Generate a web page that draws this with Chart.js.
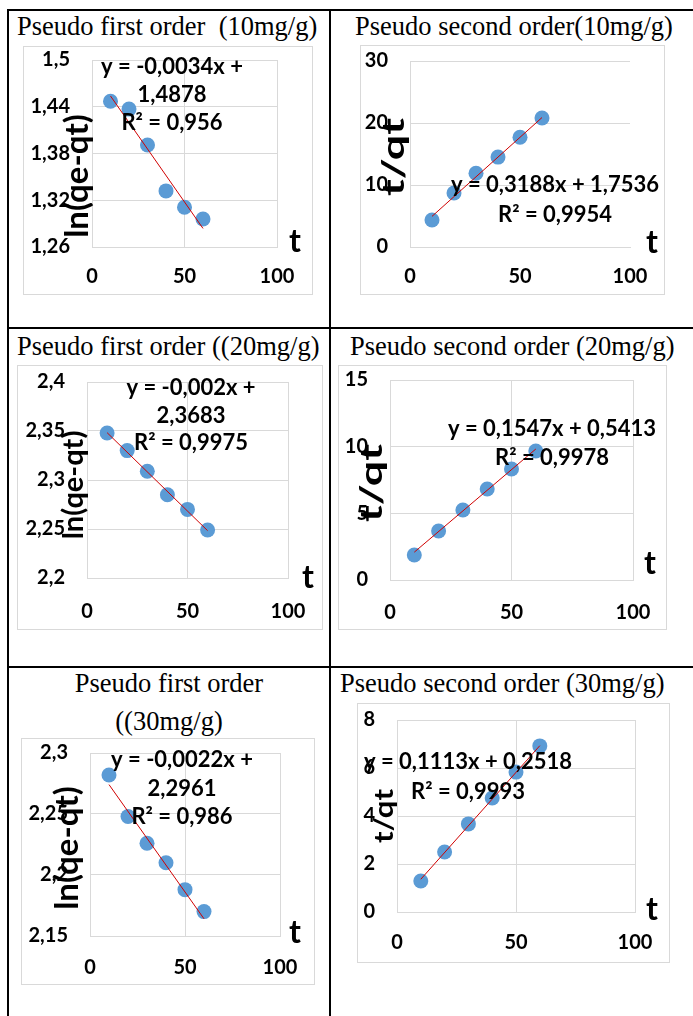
<!DOCTYPE html>
<html>
<head>
<meta charset="utf-8">
<script src="https://cdn.jsdelivr.net/npm/chart.js@4.4.1/dist/chart.umd.min.js"></script>
<style>
  html, body { margin: 0; padding: 0; background: #fff; }
  #page { position: relative; width: 693px; height: 1016px; overflow: hidden; }
  .rule { position: absolute; background: #000; }
  .title { position: absolute; font-family: "Liberation Serif", "Times New Roman", serif; font-size: 26.5px; line-height: 30px; white-space: pre; color: #000; }
  .frame { position: absolute; outline: 1px solid #d9d9d9; outline-offset: -1px; }
</style>
</head>
<body>
<div id="page">
  <!-- table rules -->
  <div class="rule" style="left:7px;top:9px;width:686px;height:2px"></div>
  <div class="rule" style="left:7px;top:327px;width:686px;height:2px"></div>
  <div class="rule" style="left:7px;top:666px;width:686px;height:2px"></div>
  <div class="rule" style="left:7px;top:9px;width:2px;height:1007px"></div>
  <div class="rule" style="left:329px;top:9px;width:2px;height:1007px"></div>

  <!-- cell titles -->
  <div class="title" style="left:17px;top:11px">Pseudo first order  (10mg/g)</div>
  <div class="title" style="left:355px;top:11px">Pseudo second order(10mg/g)</div>
  <div class="title" style="left:17px;top:331px">Pseudo first order ((20mg/g)</div>
  <div class="title" style="left:350px;top:331px">Pseudo second order (20mg/g)</div>
  <div class="title" style="left:9px;top:664px;width:320px;text-align:center;line-height:38px">Pseudo first order
((30mg/g)</div>
  <div class="title" style="left:340px;top:668px">Pseudo second order (30mg/g)</div>

  <div class="frame" style="left:23px;top:46px;width:290px;height:249px"><canvas id="c1"></canvas></div>
  <div class="frame" style="left:360px;top:45px;width:305px;height:250px"><canvas id="c2"></canvas></div>
  <div class="frame" style="left:17px;top:365px;width:306px;height:265px"><canvas id="c3"></canvas></div>
  <div class="frame" style="left:338px;top:365px;width:329px;height:265px"><canvas id="c4"></canvas></div>
  <div class="frame" style="left:21px;top:738px;width:294px;height:247px"><canvas id="c5"></canvas></div>
  <div class="frame" style="left:357px;top:703px;width:313px;height:260px"><canvas id="c6"></canvas></div>
</div>

<script>
// --- Data ---
const times = [10, 20, 30, 40, 50, 60];
const trendX = [10, 60];
const xTicks = [0, 50, 100];

// Pseudo first order: ln(qe-qt)
const pfo10 = [1.447, 1.437, 1.391, 1.332, 1.311, 1.296];
const pfo20 = [2.348, 2.330, 2.309, 2.285, 2.270, 2.249];
const pfo30 = [2.282, 2.248, 2.226, 2.210, 2.188, 2.170];
// Pseudo second order: t/qt
const pso10 = [4.35, 8.70, 11.9, 14.5, 17.7, 20.8];
const pso20 = [1.88, 3.68, 5.25, 6.83, 8.33, 9.68];
const pso30 = [1.29, 2.50, 3.67, 4.75, 5.83, 6.92];

// Trendline end values (at t = 10 and t = 60)
const pfo10Trend = [1.4538, 1.2838];
const pfo20Trend = [2.3483, 2.2483];
const pfo30Trend = [2.2741, 2.1641];
const pso10Trend = [4.9416, 20.8816];
const pso20Trend = [2.0883, 9.8233];
const pso30Trend = [1.3648, 6.9298];

// Y tick labels
const pfo10Ticks = [1.26, 1.32, 1.38, 1.44, 1.5];
const pfo20Ticks = [2.2, 2.25, 2.3, 2.35, 2.4];
const pfo30Ticks = [2.15, 2.2, 2.25, 2.3];
const pso10Ticks = [0, 10, 20, 30];
const pso20Ticks = [0, 5, 10, 15];
const pso30Ticks = [0, 2, 4, 6, 8];

// Trendline labels
const pfo10Eq = ['y = -0,0034x +', '1,4878', 'R² = 0,956'];
const pfo20Eq = ['y = -0,002x +', '2,3683', 'R² = 0,9975'];
const pfo30Eq = ['y = -0,0022x +', '2,2961', 'R² = 0,986'];
const pso10Eq = ['y = 0,3188x + 1,7536', 'R² = 0,9954'];
const pso20Eq = ['y = 0,1547x + 0,5413', 'R² = 0,9978'];
const pso30Eq = ['y = 0,1113x + 0,2518', 'R² = 0,9993'];

const BLUE = '#5B9BD5', RED = '#D00000', GRID = '#D9D9D9';
const tickFont = { family: 'Lato', size: 20, weight: 'bold' };

// label placement per chart (canvas-local pixels)
const annotations = {};

const annotPlugin = {
    id: 'annot',
    afterDraw(chart) {
        const a = annotations[chart.canvas.id];
        const ctx = chart.ctx;
        ctx.save();
        ctx.fillStyle = '#000';
        ctx.textAlign = 'center';
        ctx.textBaseline = 'middle';
        ctx.font = 'bold 22px Lato';
        a.eq.forEach((line, i) => ctx.fillText(line, a.eqX, a.eqY + i * a.eqGap));
        ctx.font = 'bold 32px Lato';
        ctx.fillText('t', a.tX, a.tY);
        ctx.translate(a.yX, a.yY);
        ctx.rotate(-Math.PI / 2);
        ctx.scale(a.yStretch, 1);
        ctx.font = 'bold ' + a.ySize + 'px Lato';
        ctx.fillText(a.yText, 0, 0);
        ctx.restore();
    }
};

function fmt(v) { return String(v).replace('.', ','); }

function buildChart(id, values, trend, yTicks, eq, g) {
    annotations[id] = Object.assign({ eq }, g);
    new Chart(document.getElementById(id), {
        type: 'scatter',
        data: {
            datasets: [
                {   // trendline (first dataset is painted on top)
                    data: trendX.map((x, i) => ({ x, y: trend[i] })),
                    showLine: true,
                    borderColor: RED,
                    borderWidth: 1,
                    pointRadius: 0
                },
                {
                    data: times.map((x, i) => ({ x, y: values[i] })),
                    pointBackgroundColor: BLUE,
                    pointBorderWidth: 0,
                    pointRadius: 7.5
                }
            ]
        },
        options: {
            responsive: true,
            maintainAspectRatio: false,
            animation: false,
            layout: { padding: { top: g.top, right: g.right, left: 0, bottom: 0 } },
            plugins: { legend: { display: false }, tooltip: { enabled: false } },
            scales: {
                x: {
                    type: 'linear', min: 0, max: 100,
                    afterBuildTicks: s => { s.ticks = xTicks.map(v => ({ value: v })); },
                    afterFit: s => { s.height = g.xH; s.paddingLeft = 0; s.paddingRight = 0; },
                    grid: { display: g.vgrid, color: GRID, drawTicks: false },
                    border: { color: GRID },
                    ticks: { font: tickFont, color: '#000', padding: g.xPad, maxRotation: 0, autoSkip: false }
                },
                y: {
                    min: yTicks[0], max: yTicks[yTicks.length - 1],
                    afterBuildTicks: s => { s.ticks = yTicks.map(v => ({ value: v })); },
                    afterFit: s => { s.width = g.yW; s.paddingTop = 0; s.paddingBottom = 0; },
                    grid: { color: GRID, drawTicks: false },
                    border: { color: GRID },
                    ticks: { font: tickFont, color: '#000', padding: 22, autoSkip: false, callback: v => fmt(v) }
                }
            }
        },
        plugins: [annotPlugin]
    });
}

buildChart('c1', pfo10, pfo10Trend, pfo10Ticks, pfo10Eq,
    { top: 14, right: 36, yW: 69, xH: 48, xPad: 18, vgrid: true,
      eqX: 149, eqY: 21, eqGap: 28, tX: 272, tY: 196,
      yText: 'ln(qe-qt)', yX: 54, yY: 130, ySize: 33, yStretch: 1 });
buildChart('c2', pso10, pso10Trend, pso10Ticks, pso10Eq,
    { top: 16, right: 35, yW: 50, xH: 48, xPad: 18, vgrid: false,
      eqX: 195, eqY: 140, eqGap: 30, tX: 292, tY: 198,
      yText: 't/qt', yX: 34, yY: 112, ySize: 30, yStretch: 1.5 });
buildChart('c3', pfo20, pfo20Trend, pfo20Ticks, pfo20Eq,
    { top: 17, right: 35, yW: 70, xH: 52, xPad: 22, vgrid: true,
      eqX: 174, eqY: 23, eqGap: 27.5, tX: 291, tY: 213,
      yText: 'ln(qe-qt)', yX: 57, yY: 120, ySize: 29, yStretch: 1 });
buildChart('c4', pso20, pso20Trend, pso20Ticks, pso20Eq,
    { top: 15, right: 34, yW: 52, xH: 50, xPad: 21, vgrid: true,
      eqX: 214, eqY: 64, eqGap: 29, tX: 312, tY: 199,
      yText: 't/qt', yX: 34, yY: 118, ySize: 31, yStretch: 1.45 });
buildChart('c5', pfo30, pfo30Trend, pfo30Ticks, pfo30Eq,
    { top: 15, right: 35, yW: 69, xH: 49, xPad: 20, vgrid: true,
      eqX: 161, eqY: 22, eqGap: 28.5, tX: 274, tY: 195,
      yText: 'ln(qe-qt)', yX: 46, yY: 110, ySize: 33, yStretch: 1 });
buildChart('c6', pso30, pso30Trend, pso30Ticks, pso30Eq,
    { top: 17, right: 35, yW: 40, xH: 51, xPad: 19, vgrid: true,
      eqX: 111, eqY: 59, eqGap: 30, tX: 295, tY: 207,
      yText: 't/qt', yX: 28, yY: 113, ySize: 26, yStretch: 1.2 });
</script>
</body>
</html>
